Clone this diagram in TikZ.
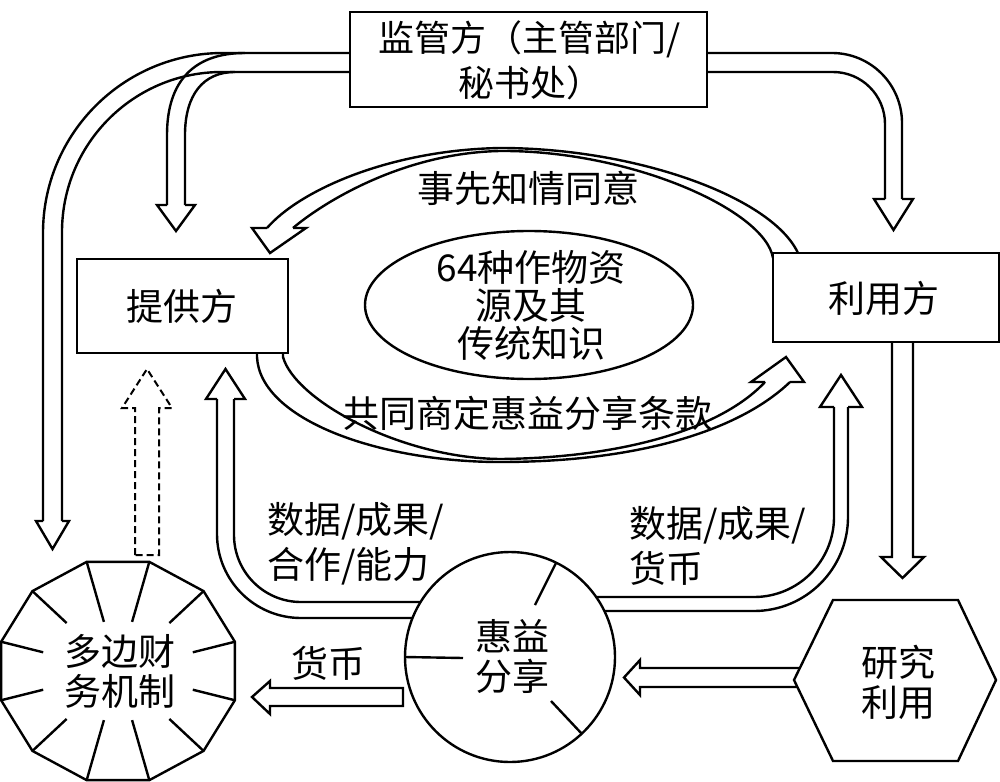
\documentclass[tikz,border=0pt]{standalone}
\usepackage{fontspec}
\setmainfont{Noto Sans CJK SC}
\usetikzlibrary{shapes.geometric}
\begin{document}
\begin{tikzpicture}[x=1pt,y=-1pt,line width=2.4pt,line join=miter,
  txt/.style={inner sep=0pt,align=center,font=\fontsize{37}{45}\selectfont},
  txtb/.style={inner sep=0pt,align=center,font=\fontsize{37}{40}\selectfont},
  shp/.style={draw,fill=white,line width=2.4pt},
  dashline/.style={line width=2pt,dash pattern=on 7pt off 4pt}]
\useasboundingbox (0,0) rectangle (1000,781);

% ---- supervisor -> multilateral mechanism
\draw[rounded corners=180pt] (360,53) -- (43,53) -- (43,521);
\draw[rounded corners=160pt] (360,72) -- (62,72) -- (62,521);
\draw (43,521) -- (36,521) -- (52.5,549) -- (69,521) -- (62,521);
% ---- supervisor -> provider
\draw (245,53) .. controls (195,53) and (167,80) .. (167,135) -- (167,205);
\draw (235,72) .. controls (203,72) and (185,95) .. (185,135) -- (185,205);
\draw (167,205) -- (157,205) -- (176,231) -- (195,205) -- (185,205);
% ---- supervisor -> user
\draw[rounded corners=70pt] (700,53) -- (902,53) -- (902,199);
\draw[rounded corners=52pt] (700,72) -- (885,72) -- (885,199);
\draw (885,199) -- (874,199) -- (893.5,230) -- (913,199) -- (902,199);

% ---- prior informed consent (user -> provider)
\draw (267,228) .. controls (300,190) and (390,150) .. (500,148) .. controls (640,148) and (780,200) .. (800,258);
\draw (293,228) .. controls (320,205) and (400,153) .. (500,151) .. controls (630,150) and (765,210) .. (773,258);
\draw (267,228) -- (252,228) -- (270,253) -- (306,228) -- (293,228);

% ---- mutually agreed terms (provider -> user)
\draw (257,350) -- (257,357) .. controls (260,420) and (380,462) .. (500,462) .. controls (640,462) and (740,430) .. (790,382);
\draw (283,350) -- (283,357) .. controls (295,400) and (400,458) .. (500,459) .. controls (620,458) and (720,430) .. (765,382);
\draw (765,382) -- (751,382) -- (786,357) -- (804,382) -- (790,382);

% ---- benefit sharing -> provider
\draw[rounded corners=67pt] (450,602) -- (234,602) -- (234,399);
\draw[rounded corners=84pt] (450,618) -- (217,618) -- (217,399);
\draw (217,399) -- (206,399) -- (225.5,369) -- (245,399) -- (234,399);

% ---- benefit sharing -> user
\draw[rounded corners=80pt] (560,597) -- (834,597) -- (834,407);
\draw[rounded corners=94pt] (560,611) -- (848,611) -- (848,407);
\draw (834,407) -- (820,407) -- (841,375) -- (862,407) -- (848,407);

% ---- user -> research
\draw (892,330) -- (892,557) -- (881,557) -- (902.5,578) -- (924,557) -- (913,557) -- (913,330);

% ---- research -> benefit sharing
\draw (820,668) -- (640,668) -- (640,660) -- (624,677.5) -- (640,695) -- (640,687) -- (820,687);

% ---- benefit sharing -> multilateral (money)
\draw (403,688) -- (270,688) -- (270,681) -- (252,697) -- (270,714) -- (270,706) -- (403,706) -- cycle;

% ---- multilateral -> provider (dashed)
\draw[dashline] (135,555) -- (135,408) -- (122,408) -- (147,369) -- (172,408) -- (159,408) -- (159,555) -- cycle;

% ---- shapes
\node[shp, minimum width=357pt, minimum height=95pt] (sup) at (528.5,59.5) {};
\node[shp, minimum width=211pt, minimum height=94pt] (prov) at (182.5,306) {};
\node[shp, minimum width=226pt, minimum height=89pt] (user) at (886,297.5) {};
\node[shp, ellipse, minimum width=328pt, minimum height=148pt] (res) at (529,305) {};
\node[shp, circle, minimum size=210pt] (hb) at (510,657) {};
\draw[shp] (833,600) -- (958,600) -- (996,680) -- (958,761) -- (833,761) -- (794,680) -- cycle;
\coordinate (mfm) at (118,671);
\draw[shp] ({118+121*cos(15)},{671-113*sin(15)})
  \foreach \a in {45,75,...,345} { -- ({118+121*cos(\a)},{671-113*sin(\a)}) } -- cycle;
\foreach \a/\r in {15/0.64,165/0.64,195/0.64,345/0.64,45/0.6,135/0.6,225/0.6,315/0.6,75/0.45,105/0.45,255/0.45,285/0.45}
  \draw ({118+121*cos(\a)},{671-113*sin(\a)}) -- ({118+121*\r*cos(\a)},{671-113*\r*sin(\a)});
% ticks in circle
\draw (556,563) -- (535,605);
\draw (405,657) -- (463,658);
\draw (582,734) -- (551,701);

% ---- texts
\node[txt, font=\fontsize{36}{45}\selectfont] (tsup) at (530,60) {监管方（主管部门/\\秘书处）};
\node[txt] (tprov) at (182,306) {提供方};
\node[txt] (tuser) at (884,298) {利用方};
\node[txt, font=\fontsize{37}{38}\selectfont] (tres) at (531,305) {64种作物资\\源及其\\传统知识};
\node[txt] (tpic) at (528,188) {事先知情同意};
\node[txt] (tmat) at (527,413) {共同商定惠益分享条款};
\node[txt, align=left, anchor=west] (tdl) at (266,544) {数据/成果/\\合作/能力};
\node[txt, align=left, anchor=west] (tdr) at (628,546) {数据/成果/\\货币};
\node[txt] (tmoney) at (328,663) {货币};
\node[txtb] (tresearch) at (898,682) {研究\\利用};
\node[txtb] (tmfm) at (120,671) {多边财\\务机制};
\node[txtb] (thb) at (512,656) {惠益\\分享};
\end{tikzpicture}
\end{document}
